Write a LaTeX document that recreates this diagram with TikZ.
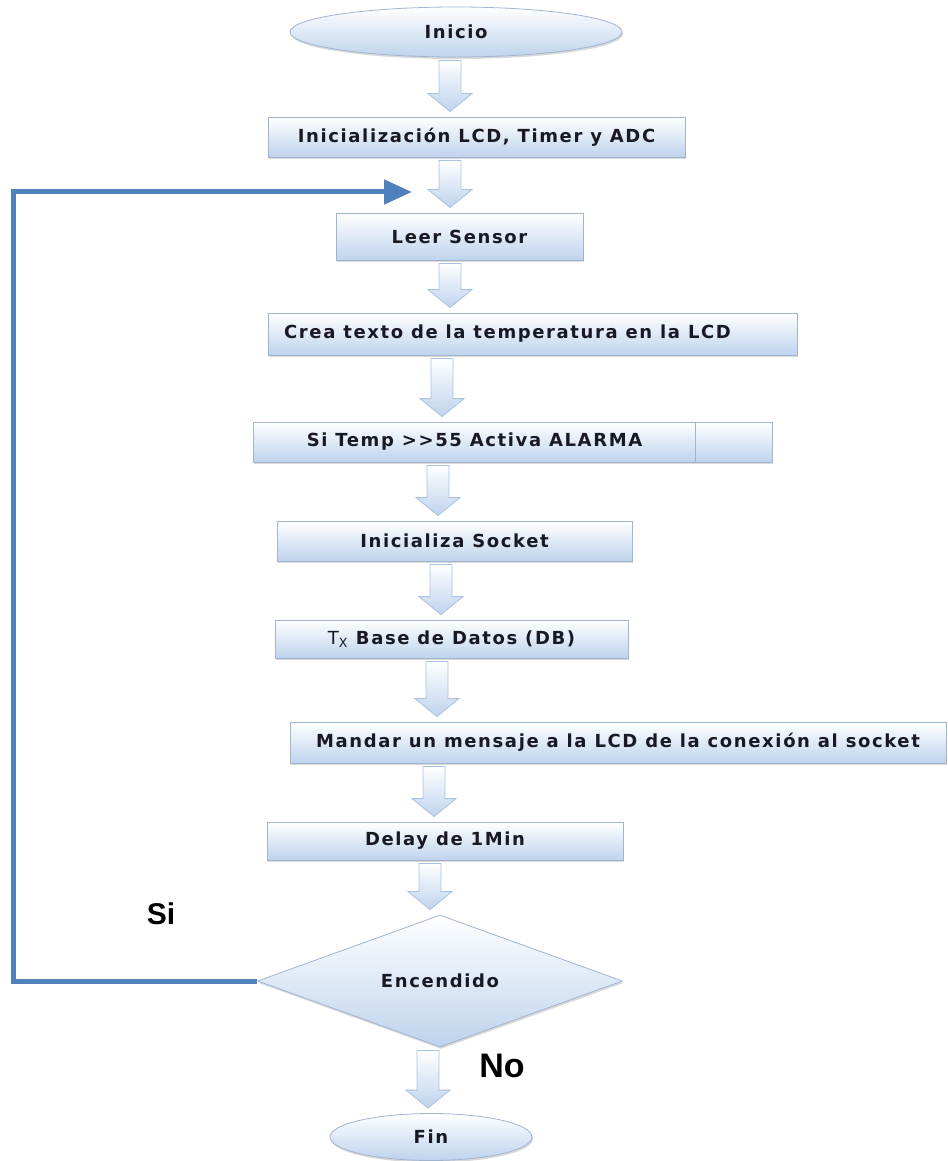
\documentclass[tikz,border=0pt]{standalone}
\usepackage{fontspec}
\usetikzlibrary{shapes.geometric,shadows,arrows.meta,calc}
\newfontfamily\boxfont{DejaVu Sans}[LetterSpace=9]
\newfontfamily\labelfont{Liberation Sans}
\definecolor{boxfill}{RGB}{190,211,237}
\definecolor{boxline}{RGB}{160,180,206}
\definecolor{arrowline}{RGB}{170,194,222}
\definecolor{loopblue}{RGB}{79,129,189}
\definecolor{ink}{RGB}{25,25,35}
\begin{document}
\begin{tikzpicture}[x=1pt,y=1pt,
  base/.style={draw=boxline, line width=0.8pt, top color=white, bottom color=boxfill,
    drop shadow={opacity=0.3, shadow xshift=1pt, shadow yshift=-2pt},
    text=ink, inner sep=0pt,
    font={\boxfont\bfseries\fontsize{18pt}{21pt}\selectfont}},
  stepbox/.style={base, rectangle},
  terminal/.style={base, ellipse},
  decision/.style={base, diamond},
  blockarrow/.style={draw=arrowline, line width=0.8pt, top color=white, bottom color=boxfill},
  loopline/.style={draw=loopblue, line width=5pt, -{Triangle[length=28pt,width=24pt]}},
  answer/.style={text=black, font={\labelfont\bfseries\fontsize{30pt}{34pt}\selectfont}}]
\useasboundingbox (0,0) rectangle (947,-1161);

% hollow block arrow from one node down to the next, at a given x
\newcommand\blockarrow[3]{%
  \path[blockarrow] let \p1=(#2.south), \p2=(#3.north) in
    (#1pt-11pt,\y1-3pt) -- (#1pt+11pt,\y1-3pt) -- (#1pt+11pt,\y2+23pt)
    -- (#1pt+22pt,\y2+23pt) -- (#1pt,\y2+5pt) -- (#1pt-22pt,\y2+23pt)
    -- (#1pt-11pt,\y2+23pt) -- cycle;}

% steps of the flow
\node[terminal, minimum width=332pt, minimum height=50pt] (start) at (456,-32) {Inicio};
\node[stepbox, minimum width=417pt, minimum height=40pt] (init) at (476.5,-137) {Inicialización LCD, Timer y ADC};
\node[stepbox, minimum width=247pt, minimum height=47pt] (read) at (459.5,-236.5) {Leer Sensor};
\node[stepbox, minimum width=529pt, minimum height=42pt] (text) at (532.5,-334) {Crea texto de la temperatura en la LCD\hspace*{50pt}\null};
\node[stepbox, minimum width=519pt, minimum height=40pt] (alarm) at (512.5,-442) {Si Temp >>55 Activa ALARMA\hspace*{76pt}\null};
\draw[boxline, line width=0.8pt] ($(alarm.north east)+(-77,0)$) -- ($(alarm.south east)+(-77,0)$);
\node[stepbox, minimum width=355pt, minimum height=40pt] (socket) at (454.5,-541) {Inicializa Socket};
\node[stepbox, minimum width=353pt, minimum height=38pt] (db) at (451.5,-639) {{\mdseries T\textsubscript{X}}\hspace{8pt}Base de Datos (DB)};
\node[stepbox, minimum width=656pt, minimum height=41pt] (msg) at (618,-742.5) {Mandar un mensaje a la LCD de la conexión al socket};
\node[stepbox, minimum width=356pt, minimum height=38pt] (delay) at (445,-841) {Delay de 1Min};
\node[decision, minimum width=365pt, minimum height=124pt] (on) at (440,-981) {Encendido};
\node[terminal, minimum width=202pt, minimum height=47pt] (stop) at (431,-1137) {Fin};

% flow arrows
\blockarrow{450}{start}{init}
\blockarrow{450}{init}{read}
\blockarrow{450}{read}{text}
\blockarrow{442}{text}{alarm}
\blockarrow{438}{alarm}{socket}
\blockarrow{441}{socket}{db}
\blockarrow{437}{db}{msg}
\blockarrow{434}{msg}{delay}
\blockarrow{430}{delay}{on}
\blockarrow{428}{on}{stop}

% loop back while the device is on
\coordinate (loopleft) at (13,0);
\coordinate (looptip) at (412,-192);
\draw[loopline] (on.west) -- (on.west -| loopleft) |- (looptip);

% answers of the decision
\node[answer] (yes) at (161,-914) {Si};
\node[answer, font={\labelfont\bfseries\fontsize{34pt}{38pt}\selectfont}] (no) at (502,-1066) {No};
\end{tikzpicture}
\end{document}
